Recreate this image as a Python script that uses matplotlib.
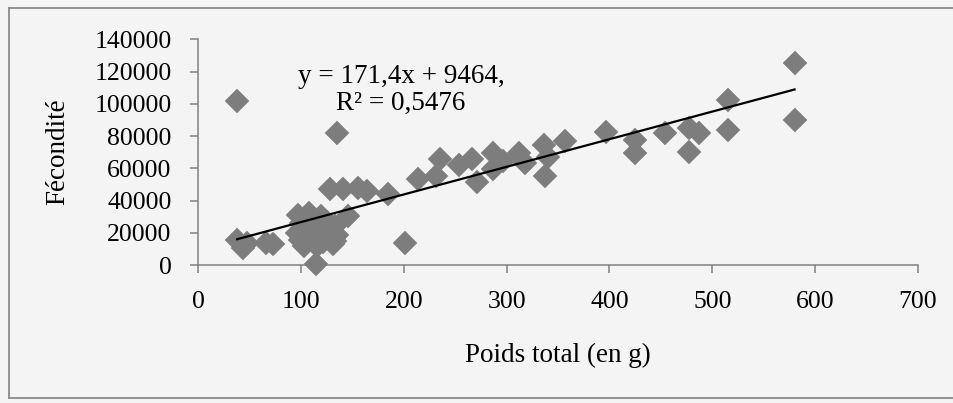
import matplotlib
matplotlib.use("Agg")
import matplotlib.pyplot as plt
from matplotlib.lines import Line2D
import numpy as np

# ---- data ----
poids = [38, 38, 44, 48, 66, 73,
         97, 108, 120, 100, 112, 125, 133, 96, 106, 118, 130, 135, 99, 110, 122, 133, 103, 116, 131,
         115, 135, 128, 141, 156, 164, 146, 185, 201,
         214, 231, 235, 254, 266, 271, 287, 287, 297, 312, 318, 336, 340, 337, 357,
         397, 425, 425, 454, 477, 487, 477, 515, 515, 580, 580]
fecondite = [101500, 15500, 10500, 13500, 13500, 13000,
             31000, 32000, 30500, 26000, 24500, 26500, 24000, 20000, 21500, 19000, 21000, 18500,
             15500, 16500, 14500, 15000, 12000, 11500, 13000,
             500, 82000, 47000, 47000, 47600, 45600, 30300, 44000, 13500,
             53500, 55500, 65500, 62000, 65500, 51300, 69500, 59500, 64700, 69500, 63500,
             74300, 66900, 55500, 77000,
             82800, 77400, 69200, 81900, 84800, 81700, 70000, 102200, 83600, 125600, 90100]

slope = 171.4
intercept = 9464
eq_line1 = "y = 171,4x + 9464,"
eq_line2 = "R² = 0,5476"

x_ticks = [0, 100, 200, 300, 400, 500, 600, 700]
y_ticks = [0, 20000, 40000, 60000, 80000, 100000, 120000, 140000]
x_label = "Poids total (en g)"
y_label = "Fécondité"

# ---- figure ----
W, H = 954, 403
fig = plt.figure(figsize=(W / 100, H / 100), dpi=100, facecolor="#f4f4f4")
plt.rcParams["font.family"] = ["Liberation Serif", "DejaVu Serif"]

ax_left, ax_right, ax_bottom, ax_top = 198, 918, 265, 39.3
ax = fig.add_axes([ax_left / W, 1 - ax_bottom / H,
                   (ax_right - ax_left) / W, (ax_bottom - ax_top) / H])
ax.set_facecolor("none")

ax.plot(poids, fecondite, linestyle="none", marker="D", markersize=11.8,
        markerfacecolor="#7d7d7d", markeredgecolor="#7d7d7d", markeredgewidth=0.3,
        clip_on=False, zorder=3)

xs = np.array([min(poids), max(poids)])
ax.plot(xs, slope * xs + intercept, color="black", linewidth=1.6, zorder=4)

ax.set_xlim(0, 700)
ax.set_ylim(0, 140000)
ax.set_xticks(x_ticks)
ax.set_yticks(y_ticks)
ax.set_xticklabels([str(v) for v in x_ticks])
ax.set_yticklabels([str(v) for v in y_ticks])

axis_col = "#808080"
for side in ["top", "right"]:
    ax.spines[side].set_visible(False)
for side in ["left", "bottom"]:
    ax.spines[side].set_color(axis_col)
    ax.spines[side].set_linewidth(1.1)
ax.tick_params(axis="both", direction="out", length=6, width=1.1, color=axis_col,
               labelsize=18.5, labelcolor="black", pad=13)

ax.set_xlabel(x_label, fontsize=19.5)
ax.set_ylabel(y_label, fontsize=19.5)
ax.xaxis.set_label_coords(0.5, -0.345)
ax.yaxis.set_label_coords(-0.178, 0.5)

ax.text(0.282, 0.833, eq_line1, transform=ax.transAxes, ha="center", va="center",
        fontsize=19.5)
ax.text(0.282, 0.718, eq_line2, transform=ax.transAxes, ha="center", va="center",
        fontsize=19.5)

# chart-area border (left, top, bottom visible in the scan)
bx0, by0, by1 = 9 / W, 1 - 398 / H, 1 - 8 / H
border_col = "#8a8a8a"
for xd, yd in [([bx0, bx0], [by0, by1]), ([bx0, 1.01], [by1, by1]), ([bx0, 1.01], [by0, by0])]:
    fig.add_artist(Line2D(xd, yd, transform=fig.transFigure, color=border_col, linewidth=1.3))

fig.savefig("out.png", dpi=100, facecolor=fig.get_facecolor())
